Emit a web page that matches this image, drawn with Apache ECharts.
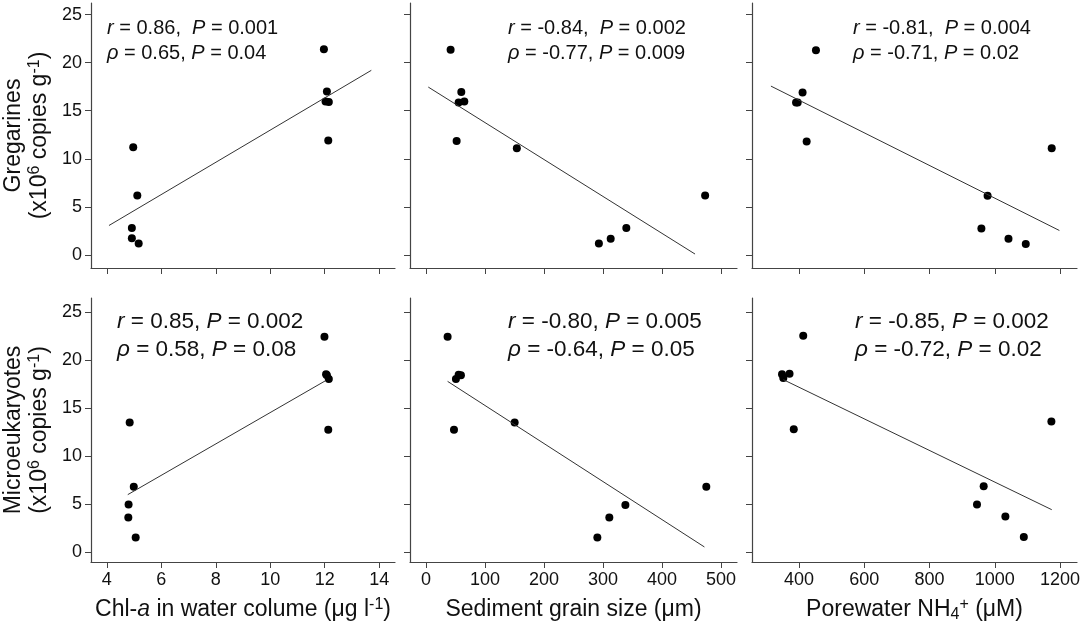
<!DOCTYPE html>
<html>
<head>
<meta charset="utf-8">
<script src="https://cdn.jsdelivr.net/npm/echarts@6.0.0/dist/echarts.min.js"></script>
<style>
  html, body { margin: 0; padding: 0; background: #fff; }
  #chart { width: 1084px; height: 625px; }
</style>
</head>
<body>
<div id="chart"></div>
<script>
// Values (x = environmental variable, y = x10^6 copies per g)
const gregChlX = [4.97, 5.12, 4.92, 4.92, 5.17, 11.97, 12.08, 12.03, 12.15, 12.13];
const gregChlY = [11.2, 6.2, 2.8, 1.75, 1.2, 21.4, 17.0, 15.95, 15.9, 11.9];
const gregGrainX = [41.8, 59.9, 55.4, 65, 52, 154, 293, 313, 339.5, 473];
const gregGrainY = [21.35, 16.95, 15.85, 15.95, 11.85, 11.1, 1.2, 1.7, 2.8, 6.2];
const gregNh4X = [452, 411, 391, 396, 423.5, 1174.5, 978, 959, 1042, 1095];
const gregNh4Y = [21.3, 16.9, 15.85, 15.85, 11.8, 11.1, 6.15, 2.75, 1.7, 1.15];

const microChlX = [11.99, 12.05, 12.08, 12.15, 12.13, 4.84, 4.99, 4.8, 4.79, 5.06];
const microChlY = [22.45, 18.55, 18.45, 18.05, 12.75, 13.5, 6.8, 4.95, 3.6, 1.5];
const microGrainX = [36.7, 55.4, 59.3, 50.8, 47.5, 150.3, 290.4, 310.7, 337.9, 475];
const microGrainY = [22.45, 18.5, 18.45, 18.05, 12.75, 13.5, 1.5, 3.6, 4.9, 6.8];
const microNh4X = [413, 348, 352, 371, 384, 1173.5, 966, 945.5, 1032.5, 1089];
const microNh4Y = [22.55, 18.55, 18.15, 18.6, 12.8, 13.6, 6.85, 4.95, 3.7, 1.55];

// fitted lines, end points as drawn
const gregChlFitX = [4.08, 13.71], gregChlFitY = [3.07, 19.2];
const gregGrainFitX = [3.95, 455.9], gregGrainFitY = [17.46, 0.1];
const gregNh4FitX = [314, 1198], gregNh4FitY = [17.56, 2.55];
const microChlFitX = [4.77, 12.03], microChlFitY = [5.98, 17.87];
const microGrainFitX = [36.7, 471.8], microGrainFitY = [17.8, 0.52];
const microNh4FitX = [352, 1174.6], microNh4FitY = [17.98, 4.41];

// correlation stats per panel (row-major)
const rValues = ['0.86', '-0.84', '-0.81', '0.85', '-0.80', '-0.85'];
const rPValues = ['0.001', '0.002', '0.004', '0.002', '0.005', '0.002'];
const rhoValues = ['0.65', '-0.77', '-0.71', '0.58', '-0.64', '-0.72'];
const rhoPValues = ['0.04', '0.009', '0.02', '0.08', '0.05', '0.02'];

// ticks
const yTicks = [0, 5, 10, 15, 20, 25];
const chlTicks = [4, 6, 8, 10, 12, 14];
const grainTicks = [0, 100, 200, 300, 400, 500];
const nh4Ticks = [400, 600, 800, 1000, 1200];

const FONT = "'Liberation Sans', Arial, sans-serif";
const INK = '#111';
const AXIS = '#444';

const panels = [
  { x: gregChlX, y: gregChlY, fx: gregChlFitX, fy: gregChlFitY },
  { x: gregGrainX, y: gregGrainY, fx: gregGrainFitX, fy: gregGrainFitY },
  { x: gregNh4X, y: gregNh4Y, fx: gregNh4FitX, fy: gregNh4FitY },
  { x: microChlX, y: microChlY, fx: microChlFitX, fy: microChlFitY },
  { x: microGrainX, y: microGrainY, fx: microGrainFitX, fy: microGrainFitY },
  { x: microNh4X, y: microNh4Y, fx: microNh4FitX, fy: microNh4FitY }
];

// layout
const colLeft = [89, 410, 752];
const colWidth = [306, 327, 325];
const rowTop = [3, 298];
const rowHeight = [265, 264];
const xRange = [[3.42, 14.58], [-27, 527], [256, 1252]];
const yRange = [[-1.35, 26.2], [-1.05, 26.5]];
const xTickSets = [chlTicks, grainTicks, nh4Ticks];

// super/subscripts: small line box pinned to top/bottom of the 26px line
const sup = { fontSize: 16, lineHeight: 8, verticalAlign: 'top', fontFamily: FONT, color: INK };
const sub = { fontSize: 16, lineHeight: 8, verticalAlign: 'bottom', fontFamily: FONT, color: INK };
const ital = { fontStyle: 'italic', fontFamily: FONT, color: INK, lineHeight: 26, fontSize: 23 };

const xNames = [
  'Chl-{i|a} in water colume (μg l{sup|-1})',
  'Sediment grain size (μm)',
  'Porewater NH{sub|4}{sup|+} (μM)'
];
const yNames = [
  'Gregarines\n(x10{sup|6} copies g{sup|-1})',
  'Microeukaryotes\n(x10{sup|6} copies g{sup|-1})'
];

const grid = [], xAxis = [], yAxis = [], series = [], graphic = [];

panels.forEach((p, i) => {
  const r = Math.floor(i / 3), c = i % 3;
  grid.push({ left: colLeft[c], top: rowTop[r], width: colWidth[c], height: rowHeight[r] });
  xAxis.push({
    gridIndex: i, type: 'value', min: xRange[c][0], max: xRange[c][1],
    axisLine: { onZero: false, lineStyle: { color: AXIS, width: 1.2 } },
    axisTick: { length: 6, lineStyle: { color: AXIS }, customValues: xTickSets[c] },
    axisLabel: {
      show: r === 1, customValues: xTickSets[c], formatter: v => String(v),
      fontSize: 18, fontFamily: FONT, color: INK, margin: 9
    },
    splitLine: { show: false },
    name: r === 1 ? xNames[c] : '',
    nameLocation: 'middle', nameGap: 35,
    nameTextStyle: { fontSize: 23, fontFamily: FONT, color: INK, lineHeight: 26, rich: { i: ital, sup, sub } }
  });
  yAxis.push({
    gridIndex: i, type: 'value', min: yRange[r][0], max: yRange[r][1],
    axisLine: { onZero: false, lineStyle: { color: AXIS, width: 1.2 } },
    axisTick: { length: 6, lineStyle: { color: AXIS }, customValues: yTicks },
    axisLabel: {
      show: c === 0, customValues: yTicks, formatter: v => String(v),
      fontSize: 18, fontFamily: FONT, color: INK, margin: 9
    },
    splitLine: { show: false },
    name: c === 0 ? yNames[r] : '',
    nameLocation: 'middle', nameGap: 38, nameRotate: 90,
    nameTextStyle: { fontSize: 23, fontFamily: FONT, color: INK, lineHeight: 26, align: 'center', rich: { sup } }
  });
  series.push({
    type: 'line', xAxisIndex: i, yAxisIndex: i, silent: true, showSymbol: false,
    lineStyle: { color: '#333', width: 1 },
    data: p.fx.map((v, k) => [v, p.fy[k]])
  });
  series.push({
    type: 'scatter', xAxisIndex: i, yAxisIndex: i, symbolSize: 8,
    itemStyle: { color: '#000', opacity: 1 },
    data: p.x.map((v, k) => [v, p.y[k]])
  });
});

// correlation annotations
const annLeft = [[107, 508, 853], [117, 508, 855]];
const annY = [[28, 53], [322, 350]];
const annSize = [20, 22.5];
const annGap = ['  ', ' '];
panels.forEach((p, i) => {
  const r = Math.floor(i / 3), c = i % 3;
  const st = { fontStyle: 'italic', fontSize: annSize[r], fontFamily: FONT, fill: INK };
  const lines = [
    '{i|r} = ' + rValues[i] + ',' + annGap[r] + '{i|P} = ' + rPValues[i],
    '{i|ρ} = ' + rhoValues[i] + ', {i|P} = ' + rhoPValues[i]
  ];
  lines.forEach((t, k) => {
    graphic.push({
      type: 'text', x: annLeft[r][c], y: annY[r][k],
      style: {
        text: t, fontSize: annSize[r], fontFamily: FONT, fill: INK,
        verticalAlign: 'middle', align: 'left',
        rich: { i: st }
      }
    });
  });
});

const chart = echarts.init(document.getElementById('chart'));
chart.setOption({
  animation: false,
  backgroundColor: '#fff',
  grid, xAxis, yAxis, series, graphic
});
</script>
</body>
</html>
